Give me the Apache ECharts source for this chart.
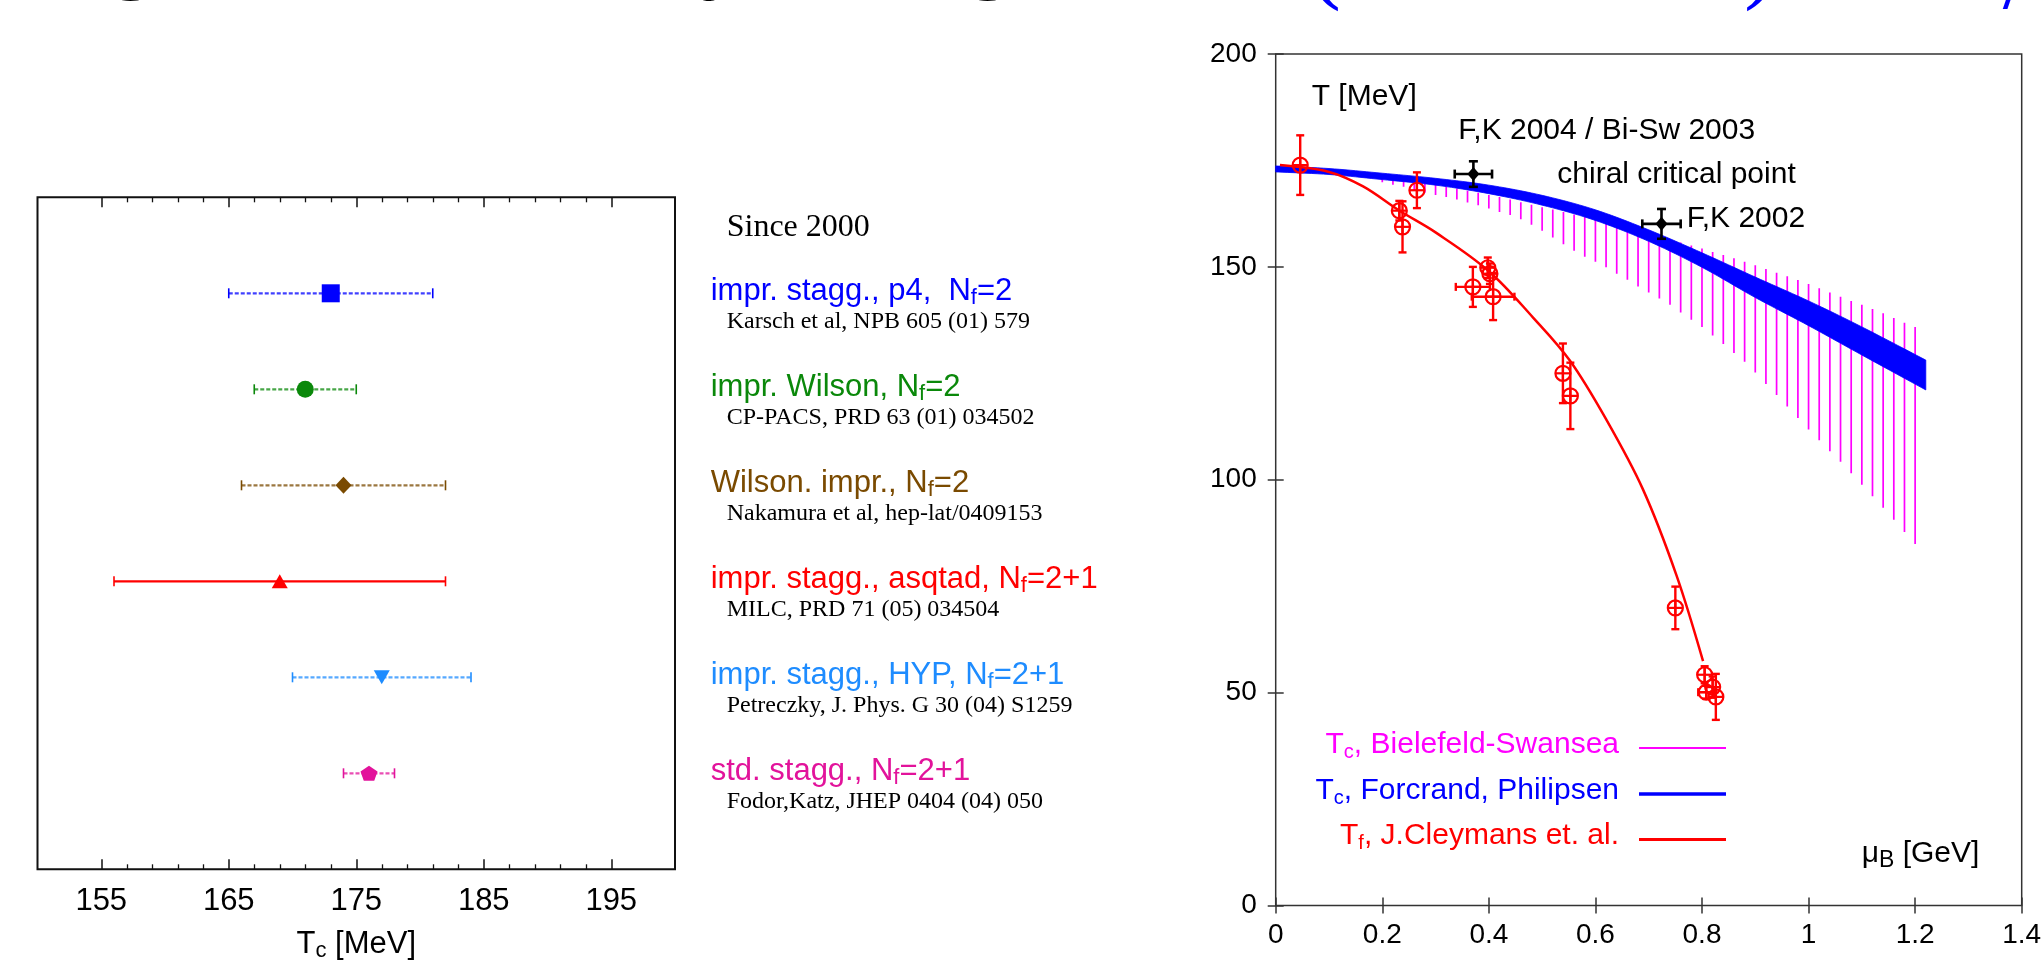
<!DOCTYPE html>
<html>
<head>
<meta charset="utf-8">
<title>Tc lattice results / phase diagram</title>
<script src="https://cdn.jsdelivr.net/npm/echarts@6/dist/echarts.min.js"></script>
<style>
  html, body { margin: 0; padding: 0; background: #fff; }
  #main { width: 2041px; height: 960px; }
</style>
</head>
<body>
<div id="main"></div>
<script>
var SANS = "'Liberation Sans', Arial, sans-serif";
var SERIF = "'Liberation Serif', 'Times New Roman', serif";

// ---------- left panel: Tc results since 2000 ----------
var tcTicks = [155, 165, 175, 185, 195];
var tcMinorTicks = [157, 159, 161, 163, 167, 169, 171, 173, 177, 179, 181, 183, 187, 189, 191, 193];
var rows = [6, 5, 4, 3, 2, 1];
var tcVal = [173, 171, 174, 169, 177, 176];
var tcLow = [165, 167, 166, 156, 170, 174];
var tcHigh = [181, 175, 182, 182, 184, 178];
var methods = ['impr. stagg., p4,  ', 'impr. Wilson, ', 'Wilson. impr., ', 'impr. stagg., asqtad, ', 'impr. stagg., HYP, ', 'std. stagg., '];
var flavours = ['2', '2', '2', '2+1', '2+1', '2+1'];
var refs = ['Karsch et al, NPB 605 (01) 579', 'CP-PACS, PRD 63 (01) 034502', 'Nakamura et al, hep-lat/0409153',
            'MILC, PRD 71 (05) 034504', 'Petreczky, J. Phys. G 30 (04) S1259', 'Fodor,Katz, JHEP 0404 (04) 050'];

// styles per row
var rowColors = ['#0000ff', '#0a880a', '#7a4a00', '#ff0000', '#1e8cff', '#e2139b'];
var rowSymbols = ['rect', 'circle', 'diamond', 'triangle', 'triangle',
                  'path://M50,0L97.6,34.5L79.4,90.5L20.6,90.5L2.4,34.5Z'];
var rowSymbolSize = [[18, 18], [17, 17], [16, 17], [16, 14], [16, 14], [17, 15]];
var rowSymbolRotate = [0, 0, 0, 0, 180, 0];
var rowDashed = [true, true, true, false, true, true];

// ---------- right panel: T - mu_B phase diagram ----------
// Bielefeld-Swansea Tc band (hatched)
var bsMu = [0.12, 0.14, 0.16, 0.18, 0.20, 0.22, 0.24, 0.26, 0.28, 0.30, 0.32, 0.34, 0.36, 0.38, 0.40,
            0.42, 0.44, 0.46, 0.48, 0.50, 0.52, 0.54, 0.56, 0.58, 0.60, 0.62, 0.64, 0.66, 0.68, 0.70,
            0.72, 0.74, 0.76, 0.78, 0.80, 0.82, 0.84, 0.86, 0.88, 0.90, 0.92, 0.94, 0.96, 0.98, 1.00,
            1.02, 1.04, 1.06, 1.08, 1.10, 1.12, 1.14, 1.16, 1.18, 1.20];
var bsLow = [172.3, 171.9, 171.5, 170.8, 169.9, 169.3, 168.8, 168.0, 167.4, 166.9, 166.4, 165.8, 165.1, 164.5, 163.7,
             162.9, 162.2, 161.2, 159.9, 158.5, 156.9, 155.3, 153.8, 152.4, 151.2, 149.9, 148.4, 147.0, 145.4, 144.0,
             142.6, 141.1, 139.3, 137.6, 135.9, 133.9, 131.9, 129.8, 127.7, 125.2, 122.5, 119.9, 117.2, 114.5, 111.8,
             109.3, 106.7, 104.2, 101.5, 98.8, 96.1, 93.4, 90.6, 87.7, 84.9];
var bsHigh = [172.4, 172.1, 171.8, 171.5, 171.2, 170.8, 170.5, 170.1, 169.7, 169.3, 168.9, 168.4, 167.9, 167.4, 166.9,
              166.4, 165.8, 165.2, 164.6, 164.0, 163.5, 162.9, 162.3, 161.7, 161.1, 160.5, 159.8, 159.1, 158.4, 157.8,
              157.1, 156.4, 155.7, 155.0, 154.3, 153.5, 152.8, 152.0, 151.2, 150.4, 149.5, 148.6, 147.8, 146.9, 146.0,
              145.0, 144.0, 143.0, 142.0, 141.1, 140.1, 139.1, 138.0, 136.9, 135.9];

// de Forcrand-Philipsen Tc band
var fpMu = [0, 0.1, 0.2, 0.3, 0.4, 0.5, 0.6, 0.7, 0.8, 0.9, 1.0, 1.1, 1.22];
var fpLow = [172.3, 171.7, 170.5, 169.2, 167.2, 164.5, 160.9, 156.0, 149.9, 142.8, 136.2, 129.3, 121.1];
var fpHigh = [173.7, 173.1, 172.0, 170.8, 169.2, 166.8, 163.4, 158.7, 153.3, 147.6, 142.0, 135.9, 128.1];

// Cleymans freeze-out curve
var cfMu = [0.008, 0.1, 0.164, 0.231, 0.3, 0.399, 0.483, 0.552, 0.621, 0.689, 0.752, 0.802];
var cfT = [173.9, 172.3, 168.9, 163.3, 158.1, 149.1, 138.1, 128.0, 114.0, 97.8, 77.6, 57.4];

// freeze-out data points
var fzMu = [0.046, 0.232, 0.238, 0.265, 0.370, 0.398, 0.402, 0.408, 0.539, 0.553, 0.750, 0.805, 0.808, 0.820, 0.826];
var fzT = [173.9, 163.2, 159.4, 168.0, 145.3, 149.8, 148.4, 143.0, 125.0, 119.7, 69.9, 54.2, 50.1, 51.3, 49.0];
var fzErrT = [7.0, 2.3, 6.0, 4.2, 4.7, 2.4, 2.4, 5.5, 7.0, 7.8, 5.0, 2.0, 1.5, 2.5, 5.4];
var fzErrMu = [0, 0, 0, 0, 0.032, 0, 0, 0.040, 0, 0, 0, 0, 0.015, 0, 0];

// critical end points (Fodor-Katz)
var fkMu = [0.371, 0.724];
var fkT = [171.8, 160.1];
var fkErrMu = [0.035, 0.036];
var fkErrT = [3.0, 3.5];

var fitNames = ['Tc, Bielefeld-Swansea', 'Tc, Forcrand, Philipsen', 'Tf, J.Cleymans et. al.'];
var fitLabels = ['{n|T}{s|c}{n|, Bielefeld-Swansea}', '{n|T}{s|c}{n|, Forcrand, Philipsen}', '{n|T}{s|f}{n|, J.Cleymans et. al.}'];
var fitColors = ['#ff00ff', '#0000ff', '#ff0000'];

function seg(x1, y1, x2, y2, style) {
  return {type: 'line', shape: {x1: x1, y1: y1, x2: x2, y2: y2}, style: style};
}

function renderTcBar(params, api) {
  var i = params.dataIndex;
  var a = api.coord([api.value(0), api.value(2)]);
  var b = api.coord([api.value(1), api.value(2)]);
  var c = rowColors[i];
  var main = {stroke: c, lineWidth: 2.2, lineDash: rowDashed[i] ? [4, 2] : null, opacity: rowDashed[i] ? 0.75 : 1};
  var capStyle = {stroke: c, lineWidth: 1.6};
  return {type: 'group', children: [
    seg(a[0], a[1], b[0], b[1], main),
    seg(a[0], a[1] - 5, a[0], a[1] + 5, capStyle),
    seg(b[0], b[1] - 5, b[0], b[1] + 5, capStyle)
  ]};
}

function renderHatch(params, api) {
  var lo = api.coord([api.value(0), api.value(1)]);
  var hi = api.coord([api.value(0), api.value(2)]);
  return seg(lo[0], lo[1], hi[0], hi[1], {stroke: '#ff00ff', lineWidth: 1.7});
}

// catmull-rom through pixel points, only used to draw smooth band edges
function spline(p) {
  var out = [p[0]];
  for (var i = 0; i < p.length - 1; i++) {
    var p0 = p[Math.max(i - 1, 0)], p1 = p[i], p2 = p[i + 1], p3 = p[Math.min(i + 2, p.length - 1)];
    for (var k = 1; k <= 10; k++) {
      var t = k / 10, t2 = t * t, t3 = t2 * t;
      out.push([0, 1].map(function (d) {
        return 0.5 * (2 * p1[d] + (p2[d] - p0[d]) * t + (2 * p0[d] - 5 * p1[d] + 4 * p2[d] - p3[d]) * t2 +
                      (3 * p1[d] - p0[d] - 3 * p2[d] + p3[d]) * t3);
      }));
    }
  }
  return out;
}

function renderBand(params, api) {
  if (params.dataIndex !== 0) return null;
  var up = fpMu.map(function (m, i) { return api.coord([m, fpHigh[i]]); });
  var lo = fpMu.map(function (m, i) { return api.coord([m, fpLow[i]]); }).reverse();
  return {type: 'polygon', shape: {points: spline(up).concat(spline(lo))},
          style: {fill: '#0000ff', stroke: '#0000ff', lineWidth: 0.8}};
}

function errorBars(api, color, lw, cap) {
  var mu = api.value(0), t = api.value(1), dt = api.value(2), dm = api.value(3);
  var c = api.coord([mu, t]);
  var top = api.coord([mu, t + dt]);
  var bot = api.coord([mu, t - dt]);
  var st = {stroke: color, lineWidth: lw};
  var out = [
    seg(c[0], top[1], c[0], bot[1], st),
    seg(c[0] - cap, top[1], c[0] + cap, top[1], st),
    seg(c[0] - cap, bot[1], c[0] + cap, bot[1], st)
  ];
  if (dm > 0) {
    var l = api.coord([mu - dm, t]), r = api.coord([mu + dm, t]);
    out.push(seg(l[0], c[1], r[0], c[1], st),
             seg(l[0], c[1] - cap, l[0], c[1] + cap, st),
             seg(r[0], c[1] - cap, r[0], c[1] + cap, st));
  }
  return {c: c, parts: out};
}

function renderFreezeout(params, api) {
  var e = errorBars(api, '#ff0000', 2.4, 4);
  var c = e.c, r = 7.5;
  var st = {stroke: '#ff0000', lineWidth: 2.2, fill: 'none'};
  e.parts.push(seg(c[0] - r, c[1], c[0] + r, c[1], st), seg(c[0], c[1] - r, c[0], c[1] + r, st),
               {type: 'circle', shape: {cx: c[0], cy: c[1], r: r}, style: st});
  return {type: 'group', children: e.parts};
}

function renderCritical(params, api) {
  var e = errorBars(api, '#000', 2.6, 4.5);
  var c = e.c;
  e.parts.push({type: 'polygon', shape: {points: [[c[0], c[1] - 7], [c[0] + 6, c[1]], [c[0], c[1] + 7], [c[0] - 6, c[1]]]},
                style: {fill: '#000'}});
  return {type: 'group', children: e.parts};
}

function tickAxis(grid, pos, ticks, len, color, width) {
  return {gridIndex: grid, type: 'value', min: 150, max: 200, position: pos,
          axisLine: {show: false}, splitLine: {show: false}, axisLabel: {show: false},
          axisTick: {inside: true, length: len, customValues: ticks, lineStyle: {color: color, width: width}}};
}

var subRich = function (color, size, subSize, subLH) {
  return {
    n: {fontSize: size, fontFamily: SANS, color: color, lineHeight: 36},
    s: {fontSize: subSize, fontFamily: SANS, color: color, lineHeight: subLH, verticalAlign: 'bottom'}
  };
};

var tcAxis = tickAxis(0, 'bottom', tcTicks, 10, '#111', 1.5);
tcAxis.axisLabel = {show: true, customValues: tcTicks, margin: 17, fontSize: 31, fontFamily: SANS, color: '#000'};
tcAxis.name = '{n|T}{s|c}{n| [MeV]}';
tcAxis.nameLocation = 'middle';
tcAxis.nameGap = 57;
tcAxis.nameTextStyle = {rich: subRich('#000', 31, 22, 16)};

var rightTicks = {inside: true, length: 8, lineStyle: {color: '#333', width: 1.5}};

var option = {
  animation: false,
  backgroundColor: '#fff',
  grid: [
    {left: 37.5, top: 197.3, right: 1366, bottom: 90.7, show: true, borderColor: '#111', borderWidth: 2, outerBoundsMode: 'none'},
    {left: 37.5, top: 197.3, right: 1366, bottom: 90.7, show: false, outerBoundsMode: 'none'},
    {left: 1275.7, top: 54, right: 19.3, bottom: 54.5, show: true, borderColor: '#333', borderWidth: 1.5, outerBoundsMode: 'none'}
  ],
  xAxis: [
    tcAxis,
    tickAxis(0, 'top', tcTicks, 10, '#111', 1.5),
    tickAxis(1, 'bottom', tcMinorTicks, 5, '#111', 1.3),
    tickAxis(1, 'top', tcMinorTicks, 5, '#111', 1.3),
    {gridIndex: 2, type: 'value', min: 0, max: 1.4, interval: 0.2, position: 'bottom',
     axisLine: {show: false}, splitLine: {show: false}, axisTick: rightTicks,
     axisLabel: {margin: 16, fontSize: 28, fontFamily: SANS, color: '#000'}},
    {gridIndex: 2, type: 'value', min: 0, max: 1.4, interval: 0.2, position: 'top',
     axisLine: {show: false}, splitLine: {show: false}, axisTick: rightTicks, axisLabel: {show: false}}
  ],
  yAxis: [
    {gridIndex: 0, type: 'value', min: 0, max: 7, show: false},
    {gridIndex: 1, type: 'value', min: 0, max: 7, show: false},
    {gridIndex: 2, type: 'value', min: 0, max: 200, interval: 50, position: 'left',
     axisLine: {show: false}, splitLine: {show: false}, axisTick: rightTicks,
     axisLabel: {margin: 19, fontSize: 28, fontFamily: SANS, color: '#000'}},
    {gridIndex: 2, type: 'value', min: 0, max: 200, interval: 50, position: 'right',
     axisLine: {show: false}, splitLine: {show: false}, axisTick: rightTicks, axisLabel: {show: false}}
  ],
  legend: fitNames.map(function (name, i) {
    return {
      data: [{name: name, icon: 'rect'}],
      right: 315, top: [729.6, 775.4, 820.9][i],
      align: 'right', padding: 0, selectedMode: false,
      itemWidth: 87, itemHeight: [2, 3.5, 3][i],
      formatter: function () { return fitLabels[i]; },
      textStyle: {color: fitColors[i], padding: [0, 15, 7, 0], rich: subRich(fitColors[i], 30, 20, 12)}
    };
  }),
  series: [
    {
      name: 'Tc error', type: 'custom', xAxisIndex: 0, yAxisIndex: 0, renderItem: renderTcBar,
      encode: {x: [0, 1], y: 2},
      data: tcLow.map(function (lo, i) { return [lo, tcHigh[i], rows[i]]; }), z: 2
    },
    {
      name: 'Tc', type: 'scatter', xAxisIndex: 0, yAxisIndex: 0, z: 3,
      data: tcVal.map(function (v, i) {
        return {value: [v, rows[i]], symbol: rowSymbols[i], symbolSize: rowSymbolSize[i],
                symbolRotate: rowSymbolRotate[i], itemStyle: {color: rowColors[i], opacity: 1}};
      })
    },
    {
      name: fitNames[0], type: 'custom', xAxisIndex: 4, yAxisIndex: 2, renderItem: renderHatch, clip: true,
      encode: {x: 0, y: [1, 2]}, itemStyle: {color: '#ff00ff'}, z: 2,
      data: bsMu.map(function (m, i) { return [m, bsLow[i], bsHigh[i]]; })
    },
    {
      name: fitNames[1], type: 'custom', xAxisIndex: 4, yAxisIndex: 2, renderItem: renderBand, clip: true,
      encode: {x: 0, y: [1, 2]}, itemStyle: {color: '#0000ff'}, z: 3,
      data: fpMu.map(function (m, i) { return [m, fpLow[i], fpHigh[i]]; })
    },
    {
      name: fitNames[2], type: 'line', xAxisIndex: 4, yAxisIndex: 2, smooth: 0.35, symbol: 'none', z: 4,
      itemStyle: {color: '#ff0000'}, lineStyle: {color: '#ff0000', width: 2.5},
      data: cfMu.map(function (m, i) { return [m, cfT[i]]; })
    },
    {
      name: 'freeze-out data', type: 'custom', xAxisIndex: 4, yAxisIndex: 2, renderItem: renderFreezeout, z: 5,
      encode: {x: 0, y: 1},
      data: fzMu.map(function (m, i) { return [m, fzT[i], fzErrT[i], fzErrMu[i]]; })
    },
    {
      name: 'critical point', type: 'custom', xAxisIndex: 4, yAxisIndex: 2, renderItem: renderCritical, z: 6,
      encode: {x: 0, y: 1},
      data: fkMu.map(function (m, i) { return [m, fkT[i], fkErrT[i], fkErrMu[i]]; })
    }
  ]
};

var chart = echarts.init(document.getElementById('main'));
chart.setOption(option);

// texts next to the left panel rows
var rowY = rows.map(function (r) { return chart.convertToPixel({gridIndex: 0}, [150, r])[1]; });

function plain(text, x, y, size, family, color, align) {
  return {type: 'text', x: x, y: y, z: 10,
          style: {text: text, fontSize: size, fontFamily: family, fill: color, align: align || 'left', verticalAlign: 'middle'}};
}
function richText(text, x, y, color, size, subSize, subLH) {
  return {type: 'text', x: x, y: y, z: 10,
          style: {text: text, align: 'left', verticalAlign: 'middle', fill: color,
                  rich: {n: {fill: color, fontSize: size, fontFamily: SANS, lineHeight: 36},
                         s: {fill: color, fontSize: subSize, fontFamily: SANS, lineHeight: subLH, verticalAlign: 'bottom'}}}};
}
// slide-title glyphs cut by the top edge: tall line box so they are not culled
function cutGlyph(text, x, y, color, align) {
  var el = plain(text, x, y, 96, SERIF, color, align || 'center');
  el.style.lineHeight = 150;
  return el;
}

var graphics = [plain('Since 2000', 726.7, rowY[0] - 65.8, 32, SERIF, '#000')];
rows.forEach(function (r, i) {
  graphics.push(richText('{n|' + methods[i] + 'N}{s|f}{n|=' + flavours[i] + '}', 710.7, rowY[i] - 2.3, rowColors[i], 31, 22, 16));
  graphics.push(plain(refs[i], 726.7, rowY[i] + 28.6, 24, SERIF, '#000'));
});

// annotations inside the phase diagram
graphics.push(
  plain('T [MeV]', 1311.7, 96.3, 30, SANS, '#000'),
  plain('F,K 2004 / Bi-Sw 2003', 1458.3, 130.6, 30, SANS, '#000'),
  plain('chiral critical point', 1557.3, 174.6, 30, SANS, '#000'),
  plain('F,K 2002', 1686.7, 219, 30, SANS, '#000'),
  richText('{n|\u03bc}{s|B}{n| [GeV]}', 1861.7, 853.8, '#000', 30, 23, 21)
);

// bottom of the slide title, cut off by the picture edge
graphics.push(
  cutGlyph('g', 132, -44.5, '#000'),
  cutGlyph('y', 725, -44.5, '#000'),
  cutGlyph('g,', 965, -44.5, '#000', 'left'),
  cutGlyph('o', 1128, -28.4, '#0000ff'),
  cutGlyph('(', 1325, -34.4, '#0000ff'),
  cutGlyph(')', 1760, -34.4, '#0000ff'),
  cutGlyph('/', 2016, -17.4, '#0000ff')
);

chart.setOption({graphic: graphics});
</script>
</body>
</html>
